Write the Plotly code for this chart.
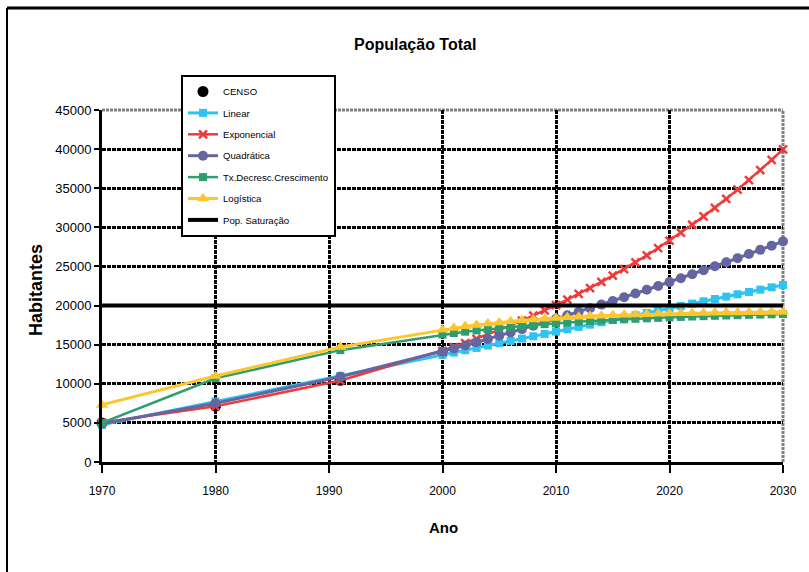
import plotly.graph_objects as go

# ---------------- data ----------------
years_censo = [1970, 1980, 1991, 2000]
censo = [4990, 7150, 10450, 13950]

years = [1970, 1980, 1991, 2000,
         2001, 2002, 2003, 2004, 2005, 2006, 2007, 2008, 2009, 2010,
         2011, 2012, 2013, 2014, 2015, 2016, 2017, 2018, 2019, 2020,
         2021, 2022, 2023, 2024, 2025, 2026, 2027, 2028, 2029, 2030]

linear = [4750, 7730, 11010, 13690,
          13990, 14290, 14580, 14880, 15180, 15480, 15780, 16070, 16370, 16670,
          16970, 17270, 17560, 17860, 18160, 18460, 18760, 19050, 19350, 19650,
          19950, 20250, 20540, 20840, 21140, 21440, 21740, 22030, 22330, 22630]

exponencial = [5040, 7120, 10410, 14200,
               14700, 15210, 15750, 16300, 16870, 17470, 18080, 18710, 19370, 20050,
               20760, 21480, 22240, 23020, 23830, 24660, 25530, 26420, 27350, 28310,
               29310, 30330, 31400, 32500, 33640, 34820, 36050, 37310, 38620, 39980]

quadratica = [4900, 7500, 10900, 14100,
              14500, 14900, 15310, 15720, 16140, 16560, 16990, 17420, 17860, 18300,
              18750, 19200, 19660, 20120, 20590, 21060, 21540, 22020, 22510, 23000,
              23500, 24000, 24510, 25020, 25540, 26060, 26590, 27120, 27660, 28200]

tx_decresc = [5000, 10700, 14300, 16300,
              16490, 16660, 16820, 16980, 17120, 17260, 17380, 17500, 17620, 17720,
              17820, 17920, 18010, 18090, 18170, 18240, 18310, 18370, 18430, 18490,
              18550, 18600, 18640, 18690, 18730, 18770, 18810, 18840, 18880, 18910]

logistica = [7300, 11000, 14700, 16900,
             17130, 17340, 17520, 17690, 17840, 17980, 18110, 18220, 18320, 18420,
             18500, 18580, 18650, 18710, 18760, 18820, 18860, 18900, 18940, 18980,
             19010, 19030, 19060, 19080, 19100, 19120, 19140, 19150, 19170, 19180]

years_sat = [1970, 2030]
saturacao = [20000, 20000]

x_ticks = [1970, 1980, 1990, 2000, 2010, 2020, 2030]

# ---------------- figure ----------------
SANS = "Liberation Sans, Arial, sans-serif"

fig = go.Figure()

fig.add_trace(go.Scatter(x=years_censo, y=censo, name="CENSO", mode="markers",
                         marker=dict(symbol="circle", size=11, color="black"),
                         legendgroup="a", cliponaxis=False))
fig.add_trace(go.Scatter(x=years, y=linear, name="Linear", mode="lines+markers",
                         line=dict(color="#2EC3F2", width=3),
                         marker=dict(symbol="square", size=8, color="#2EC3F2"),
                         legendgroup="b", cliponaxis=False))
fig.add_trace(go.Scatter(x=years, y=exponencial, name="Exponencial", mode="lines+markers",
                         line=dict(color="#F03A3A", width=2.5),
                         marker=dict(symbol="x-thin", size=8, color="#F03A3A",
                                     line=dict(color="#F03A3A", width=2.5)),
                         legendgroup="c", cliponaxis=False))
fig.add_trace(go.Scatter(x=years, y=quadratica, name="Quadrática", mode="lines+markers",
                         line=dict(color="#6466A2", width=3),
                         marker=dict(symbol="circle", size=10, color="#6466A2"),
                         legendgroup="d", cliponaxis=False))
fig.add_trace(go.Scatter(x=years, y=tx_decresc, name="Tx.Decresc.Crescimento", mode="lines+markers",
                         line=dict(color="#2E9E6E", width=2.5),
                         marker=dict(symbol="square", size=8, color="#2E9E6E"),
                         legendgroup="e", cliponaxis=False))
fig.add_trace(go.Scatter(x=years, y=logistica, name="Logística", mode="lines+markers",
                         line=dict(color="#FCC630", width=3),
                         marker=dict(symbol="triangle-up", size=11, color="#FCC630"),
                         legendgroup="f", cliponaxis=False))
fig.add_trace(go.Scatter(x=years_sat, y=saturacao, name="Pop. Saturação", mode="lines",
                         line=dict(color="black", width=4),
                         legendgroup="g", cliponaxis=False))

L, R, T, B = 102, 26, 110, 110
W, H = 809, 572
pw, ph = W - L - R, H - T - B


def px_x(p):
    return (p - L) / pw


def px_y(p):
    return (H - B - p) / ph


shapes = [
    # outer frame
    dict(type="line", xref="paper", yref="paper", x0=px_x(7), x1=px_x(830),
         y0=px_y(8), y1=px_y(8), line=dict(color="black", width=3)),
    dict(type="line", xref="paper", yref="paper", x0=px_x(7), x1=px_x(7),
         y0=px_y(8), y1=px_y(600), line=dict(color="black", width=2)),
    # grey plot-area border (top & right)
    dict(type="line", xref="paper", yref="paper", x0=0, x1=1, y0=1, y1=1,
         line=dict(color="#808080", width=3, dash="3px,1px"), layer="between"),
    dict(type="line", xref="paper", yref="paper", x0=1, x1=1, y0=0, y1=1,
         line=dict(color="#808080", width=3, dash="3px,1px"), layer="between"),
]

annotations = [
    dict(text="<b>População Total</b>", xref="paper", yref="paper",
         x=px_x(415), y=px_y(44), xanchor="center", yanchor="middle", showarrow=False,
         font=dict(family=SANS, size=16, color="black")),
    dict(text="<b>Habitantes</b>", xref="paper", yref="paper", textangle=-90,
         x=px_x(36), y=px_y(290), xanchor="center", yanchor="middle", showarrow=False,
         font=dict(family=SANS, size=18, color="black")),
    dict(text="<b>Ano</b>", xref="paper", yref="paper",
         x=px_x(443), y=px_y(527), xanchor="center", yanchor="middle", showarrow=False,
         font=dict(family=SANS, size=15, color="black")),
]

fig.update_layout(
    width=W, height=H,
    margin=dict(l=L, r=R, t=T, b=B, pad=0),
    paper_bgcolor="white", plot_bgcolor="white",
    showlegend=True,
    legend=dict(x=px_x(181), y=px_y(75), xanchor="left", yanchor="top",
                bgcolor="white", bordercolor="black", borderwidth=2,
                font=dict(family=SANS, size=9.6, color="black"),
                tracegroupgap=2.4, traceorder="grouped", itemwidth=30),
    shapes=shapes,
    annotations=annotations,
    xaxis=dict(range=[1970, 2030], tickvals=x_ticks, ticktext=[str(v) for v in x_ticks],
               showline=True, linecolor="black", linewidth=3,
               ticks="outside", ticklen=8, tickwidth=1.5, tickcolor="black",
               showgrid=True, gridcolor="black", gridwidth=2.5, griddash="4px,1px",
               zeroline=False, ticklabelstandoff=8,
               tickfont=dict(family=SANS, size=12, color="black")),
    yaxis=dict(range=[0, 45000], dtick=5000, tick0=0,
               showline=True, linecolor="black", linewidth=3,
               ticks="outside", ticklen=5, tickwidth=2, tickcolor="black",
               showgrid=True, gridcolor="black", gridwidth=2.5, griddash="4px,1px",
               zeroline=False, tickformat="d",
               tickfont=dict(family=SANS, size=13, color="black")),
)

fig.write_html("out.html")
